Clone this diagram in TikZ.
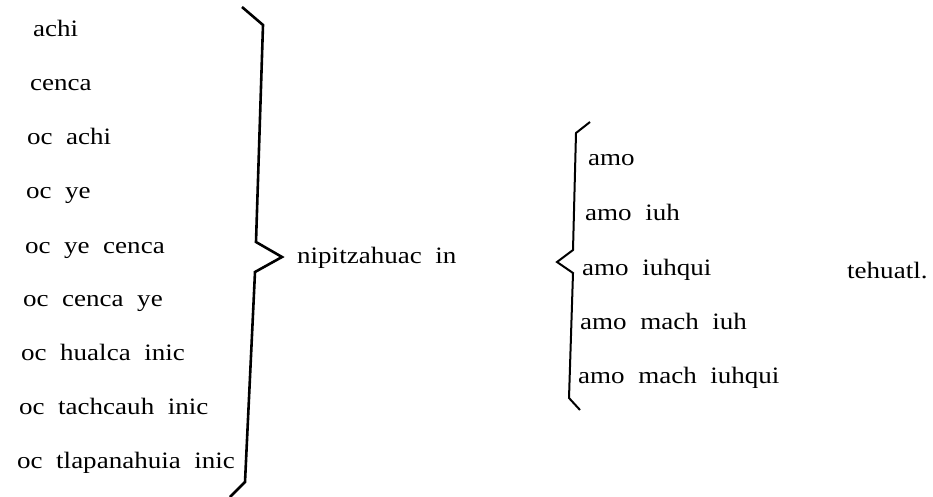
\documentclass[tikz,border=0pt]{standalone}
\usepackage{fontspec}
\setmainfont{Liberation Serif}[FakeStretch=1.15,WordSpace=2]
\begin{document}
\begin{tikzpicture}[x=1pt,y=-1pt,
  word/.style={anchor=base west,inner sep=0pt,font=\fontsize{23.5}{28}\selectfont},
  bigbrace/.style={line width=2.6pt,line join=miter},
  smallbrace/.style={line width=2pt,line join=miter}]
\useasboundingbox (0,0) rectangle (933,497);
% left column
\node[word] (l1) at (33,37) {achi};
\node[word] (l2) at (30,91) {cenca};
\node[word] (l3) at (27,145) {oc achi};
\node[word] (l4) at (26,198) {oc ye};
\node[word] (l5) at (25,253) {oc ye cenca};
\node[word] (l6) at (23,306) {oc cenca ye};
\node[word] (l7) at (21,360) {oc hualca inic};
\node[word] (l8) at (19,414) {oc tachcauh inic};
\node[word] (l9) at (17,468) {oc tlapanahuia inic};
% left brace
\draw[bigbrace] (242,7) -- (263,25) -- (256,242) -- (282,257) -- (255,272) -- (245,482) -- (230,497);
\node[word] (mid) at (297,263) {nipitzahuac in};
% right brace
\draw[smallbrace] (590,122) -- (576,133) -- (573,250) -- (557,262) -- (573,273) -- (569,398) -- (580,410);
% right column
\node[word] (r1) at (588,165) {amo};
\node[word] (r2) at (585,220) {amo iuh};
\node[word] (r3) at (582,275) {amo iuhqui};
\node[word] (r4) at (580,329) {amo mach iuh};
\node[word] (r5) at (578,383) {amo mach iuhqui};
\node[word] (end) at (847,278) {tehuatl.};
\end{tikzpicture}
\end{document}
